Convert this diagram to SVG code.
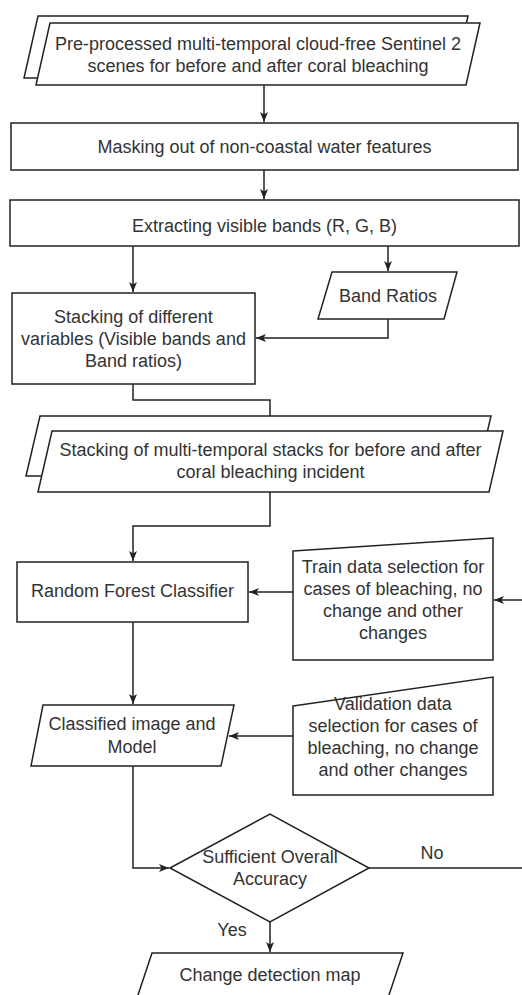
<svg xmlns="http://www.w3.org/2000/svg" width="522" height="995" viewBox="0 0 522 995">
<defs>
<style>
.s{fill:#ffffff;stroke:#222222;stroke-width:1.5;}
.t{font-family:"Liberation Sans",Arial,sans-serif;font-size:18px;fill:#333333;text-anchor:middle;}
.c{fill:none;stroke:#222222;stroke-width:1.5;}
</style>
<marker id="ah" viewBox="0 0 10 8" refX="10" refY="4" markerWidth="10" markerHeight="8" markerUnits="userSpaceOnUse" orient="auto">
<path d="M0,0 L10,4 L0,8 L2.5,4 z" fill="#222222"/>
</marker>
</defs>
<rect x="0" y="0" width="522" height="995" fill="#ffffff"/>

<g id="connectors">
<path class="c" d="M264,85 L264,122" marker-end="url(#ah)"/>
<path class="c" d="M264,170 L264,199" marker-end="url(#ah)"/>
<path class="c" d="M133,246 L133,292" marker-end="url(#ah)"/>
<path class="c" d="M388,246 L388,271" marker-end="url(#ah)"/>
<path class="c" d="M388,319 L388,338 L256,338" marker-end="url(#ah)"/>
<path class="c" d="M133,384 L133,400 L270,400 L270,430" marker-end="url(#ah)"/>
<path class="c" d="M270,492 L270,526 L133,526 L133,561" marker-end="url(#ah)"/>
<path class="c" d="M293,592 L249,592" marker-end="url(#ah)"/>
<path class="c" d="M522,600 L494,600" marker-end="url(#ah)"/>
<path class="c" d="M133,622 L133,704" marker-end="url(#ah)"/>
<path class="c" d="M293,736 L229,736" marker-end="url(#ah)"/>
<path class="c" d="M133,766 L133,868 L169,868" marker-end="url(#ah)"/>
<path class="c" d="M369,868 L522,868"/>
<path class="c" d="M270,922 L270,952" marker-end="url(#ah)"/>
<text class="t" x="432" y="859">No</text>
<text class="t" x="232" y="936">Yes</text>
</g>

<g id="n1">
<polygon class="s" points="38,16 468,16 454,78 24,78"/>
<polygon class="s" points="50,23 480,23 466,85 36,85"/>
<text class="t" x="258" y="50">Pre-processed multi-temporal cloud-free Sentinel 2</text>
<text class="t" x="258" y="72">scenes for before and after coral bleaching</text>
</g>

<g id="n2">
<rect class="s" x="11" y="123" width="507" height="47"/>
<text class="t" x="264.5" y="153">Masking out of non-coastal water features</text>
</g>

<g id="n3">
<rect class="s" x="10" y="200" width="509" height="46"/>
<text class="t" x="264.5" y="232">Extracting visible bands (R, G, B)</text>
</g>

<g id="n4">
<rect class="s" x="12" y="293" width="243" height="91"/>
<text class="t" x="133.5" y="323">Stacking of different</text>
<text class="t" x="133.5" y="345">variables (Visible bands and</text>
<text class="t" x="133.5" y="367">Band ratios)</text>
</g>

<g id="n5">
<polygon class="s" points="332,272 457,272 444,319 318,319"/>
<text class="t" x="388" y="302">Band Ratios</text>
</g>

<g id="n6">
<polygon class="s" points="40,416 491,416 477,476 26,476"/>
<polygon class="s" points="52,431 503,431 489,492 38,492"/>
<text class="t" x="270.5" y="456">Stacking of multi-temporal stacks for before and after</text>
<text class="t" x="270.5" y="478">coral bleaching incident</text>
</g>

<g id="n7">
<rect class="s" x="17" y="562" width="231" height="60"/>
<text class="t" x="132.5" y="597">Random Forest Classifier</text>
</g>

<g id="n8">
<polygon class="s" points="293,551 493,538 493,660 293,660"/>
<text class="t" x="393" y="573">Train data selection for</text>
<text class="t" x="393" y="595">cases of bleaching, no</text>
<text class="t" x="393" y="617">change and other</text>
<text class="t" x="393" y="639">changes</text>
</g>

<g id="n9">
<polygon class="s" points="43,705 234,705 221,766 31,766"/>
<text class="t" x="132" y="730">Classified image and</text>
<text class="t" x="132" y="753">Model</text>
</g>

<g id="n10">
<polygon class="s" points="293,706 493,677 493,795 293,795"/>
<text class="t" x="393" y="710">Validation data</text>
<text class="t" x="393" y="732">selection for cases of</text>
<text class="t" x="393" y="754">bleaching, no change</text>
<text class="t" x="393" y="776">and other changes</text>
</g>

<g id="n11">
<polygon class="s" points="170,868 270,814 369,868 270,922"/>
<text class="t" x="270" y="863">Sufficient Overall</text>
<text class="t" x="270" y="885">Accuracy</text>
</g>

<g id="n12">
<polygon class="s" points="152,953 403,953 388,998 137,998"/>
<text class="t" x="270" y="981">Change detection map</text>
</g>
</svg>
